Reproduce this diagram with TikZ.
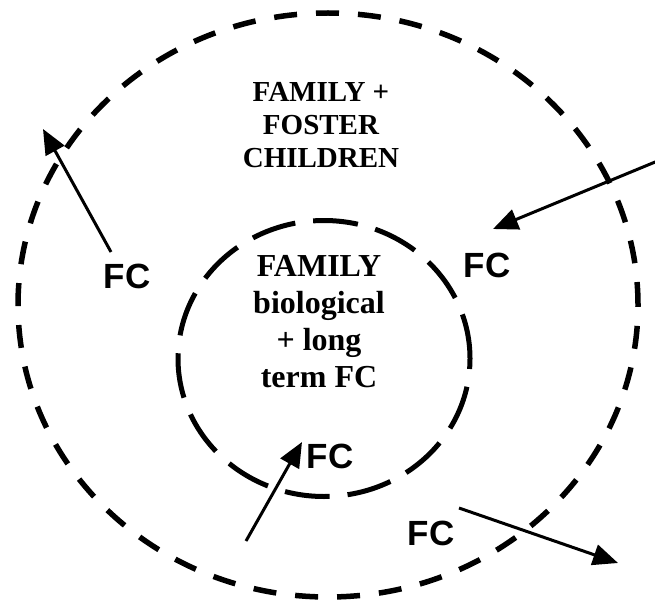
\documentclass[tikz,border=0pt]{standalone}
\usepackage{fontspec}
\setmainfont{Liberation Serif}
\setsansfont{Liberation Sans}
\usetikzlibrary{arrows.meta,shapes.geometric}
\tikzset{
  ring/.style={draw, ellipse, inner sep=0pt, line width=5.5pt},
  fclabel/.style={inner sep=0pt, font=\sffamily\bfseries\fontsize{35}{40}\selectfont},
  move/.style={line width=3pt, -{Triangle[length=25pt,width=21pt]}}
}
\begin{document}
\begin{tikzpicture}[x=1pt, y=-1pt]
    \useasboundingbox (0,0) rectangle (655,604);

    % Outer and inner circles
    \node[ring, dash pattern=on 23pt off 19pt, minimum width=620pt, minimum height=584pt] (outer) at (328,305) {};
    \node[ring, line width=5pt, dash pattern=on 45pt off 18pt, minimum width=292pt, minimum height=276pt] (inner) at (324,358.5) {};

    % Circle texts
    \node[align=center, inner sep=0pt, font=\bfseries\fontsize{29}{33}\selectfont] (fostertext) at (321,125) {FAMILY +\\FOSTER\\CHILDREN};
    \node[align=center, inner sep=0pt, font=\bfseries\fontsize{32}{37}\selectfont] (familytext) at (319,322) {FAMILY\\biological\\+ long\\term FC};

    % Foster children labels
    \node[fclabel] (fcleft) at (127,276) {FC};
    \node[fclabel] (fcright) at (487,265) {FC};
    \node[fclabel] (fcin) at (330,456) {FC};
    \node[fclabel] (fcout) at (431,533) {FC};

    % Arrow ends
    \coordinate (leftstart) at (111,252);
    \coordinate (lefttip) at (43,129);
    \coordinate (rightstart) at (660,160);
    \coordinate (righttip) at (493,229);
    \coordinate (instart) at (246,541);
    \coordinate (intip) at (302,442);
    \coordinate (outstart) at (459,508);
    \coordinate (outtip) at (618,563);

    % Arrows
    \draw[move] (leftstart) -- (lefttip);
    \draw[move] (rightstart) -- (righttip);
    \draw[move] (instart) -- (intip);
    \draw[move] (outstart) -- (outtip);
\end{tikzpicture}
\end{document}
